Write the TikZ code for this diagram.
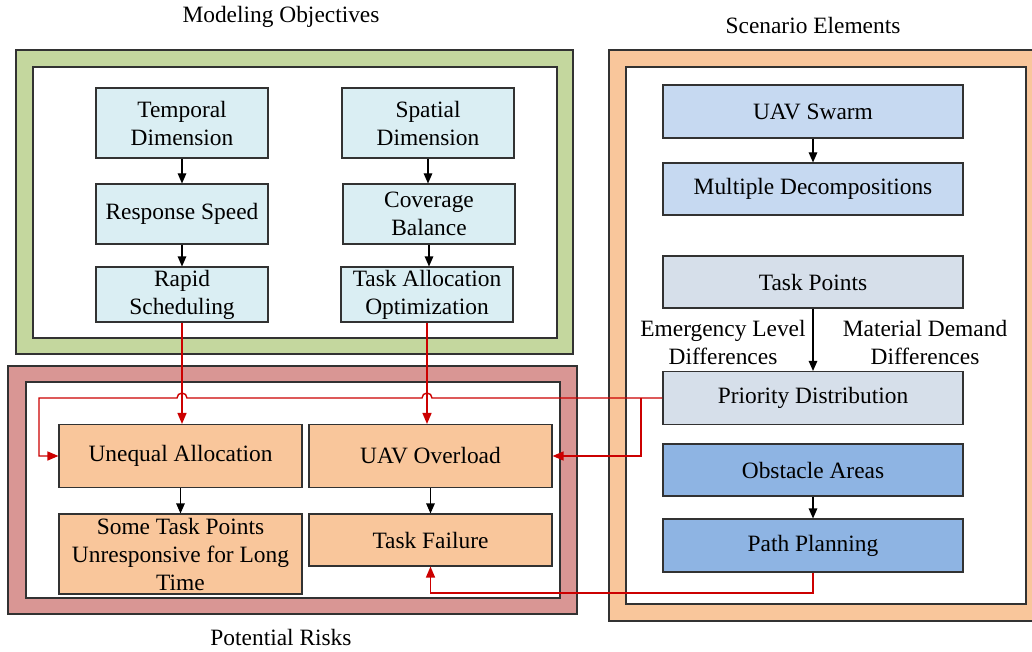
\documentclass[tikz,border=0pt]{standalone}
\usepackage{fontspec}
\setmainfont{Liberation Serif}
\usetikzlibrary{arrows.meta,calc}

\definecolor{objGreen}{RGB}{196,215,158}
\definecolor{scnOrange}{RGB}{249,198,155}
\definecolor{riskRed}{RGB}{217,150,148}
\definecolor{objBlue}{RGB}{218,238,243}
\definecolor{swarmBlue}{RGB}{198,217,241}
\definecolor{taskGray}{RGB}{214,223,234}
\definecolor{pathBlue}{RGB}{142,180,227}
\definecolor{riskFill}{RGB}{249,198,155}
\definecolor{linkRed}{RGB}{204,0,0}
\definecolor{edgeGray}{RGB}{50,50,50}

\begin{document}
\begin{tikzpicture}[x=1pt,y=1pt,
  every node/.style={font=\fontsize{23.4}{28}\selectfont},
  frame/.style={draw=edgeGray, line width=1.2pt},
  box/.style={draw=edgeGray, line width=1.1pt, align=center, inner sep=0pt},
  objbox/.style={box, fill=objBlue, minimum width=172pt},
  scnbox/.style={box, minimum width=300pt},
  riskbox/.style={box, fill=riskFill, minimum width=243pt},
  flow/.style={-{Triangle[length=10pt,width=8.5pt]}, line width=1.1pt, draw=black},
  link/.style={-{Triangle[length=11pt,width=9pt]}, line width=1.4pt, draw=linkRed, color=linkRed}]

\useasboundingbox (0,0) rectangle (1032,-652);

% group frames
\draw[frame, fill=objGreen] (16,-50) rectangle (573,-354);
\draw[frame, fill=white] (33,-67) rectangle (557,-338);
\draw[frame, fill=scnOrange] (609,-50) rectangle (1045,-621);
\draw[frame, fill=white] (626,-67) rectangle (1026,-604);
\draw[frame, fill=riskRed] (8,-366) rectangle (577,-614);
\draw[frame, fill=white] (26,-382) rectangle (560,-598);

% group titles
\node (tObj) at (281,-17) {Modeling Objectives};
\node (tScn) at (813,-25) {Scenario Elements};
\node (tRisk) at (281,-637) {Potential Risks};

% modeling objectives
\node[objbox, minimum height=70pt] (td) at (182,-123) {Temporal\\Dimension};
\node[objbox, minimum height=60pt] (rsp) at (182,-214) {Response Speed};
\node[objbox, minimum height=55pt] (rs) at (182,-294.5) {Rapid\\Scheduling};
\node[objbox, minimum height=70pt] (sd) at (428,-123) {Spatial\\Dimension};
\node[objbox, minimum height=60pt] (cb) at (429,-214) {Coverage\\Balance};
\node[objbox, minimum height=55pt] (tao) at (427,-294.5) {Task Allocation\\Optimization};

\draw[flow] (td) -- (rsp);
\draw[flow] (rsp) -- (rs);
\draw[flow] (sd.south) -- (sd.south |- cb.north);
\draw[flow] (cb.south) -- (cb.south |- tao.north);

% scenario elements
\node[scnbox, fill=swarmBlue, minimum height=53pt] (us) at (813,-111.5) {UAV Swarm};
\node[scnbox, fill=swarmBlue, minimum height=52pt] (md) at (813,-189) {Multiple Decompositions};
\node[scnbox, fill=taskGray, minimum height=52pt] (tp) at (813,-282) {Task Points};
\node[scnbox, fill=taskGray, minimum height=53pt] (pd) at (813,-398) {Priority Distribution};
\node[scnbox, fill=pathBlue, minimum height=52pt] (oa) at (813,-470) {Obstacle Areas};
\node[scnbox, fill=pathBlue, minimum height=53pt] (pp) at (813,-545.5) {Path Planning};

\node[align=center] (lblEm) at (723,-342) {Emergency Level\\Differences};
\node[align=center] (lblMat) at (925,-342) {Material Demand\\Differences};

\draw[flow] (us) -- (md);
\draw[flow] (tp) -- (pd);
\draw[flow] (oa) -- (pp);

% potential risks
\node[riskbox, minimum height=63pt] (ua) at (180.5,-456) {Unequal Allocation};
\node[riskbox, minimum height=63pt] (uo) at (430.5,-456) {UAV Overload};
\node[riskbox, minimum height=80pt] (st) at (180.5,-554) {Some Task Points\\Unresponsive for Long\\Time};
\node[riskbox, minimum height=52pt] (tf) at (430.5,-540) {Task Failure};

\draw[flow] (ua) -- (st);
\draw[flow] (uo) -- (tf);

% cross-group links
\coordinate (leftTurn) at (39,0);
\coordinate (split) at (641,0);
\coordinate (ppTurn) at (0,-593);

\draw[link] (rs.south) -- (rs.south |- ua.north);
\draw[link] (tao.south) -- (tao.south |- uo.north);

\draw[link] (pd.west)
  -- ($(tao.south |- pd.west)+(5,0)$) arc[start angle=0,end angle=180,radius=5pt]
  -- ($(rs.south |- pd.west)+(5,0)$) arc[start angle=0,end angle=180,radius=5pt]
  -- (leftTurn |- pd.west) |- (ua.west);
\draw[link] (split |- pd.west) |- (uo.east);
\draw[link] (pp.south) -- (pp.south |- ppTurn) -| (tf.south);

\end{tikzpicture}
\end{document}
